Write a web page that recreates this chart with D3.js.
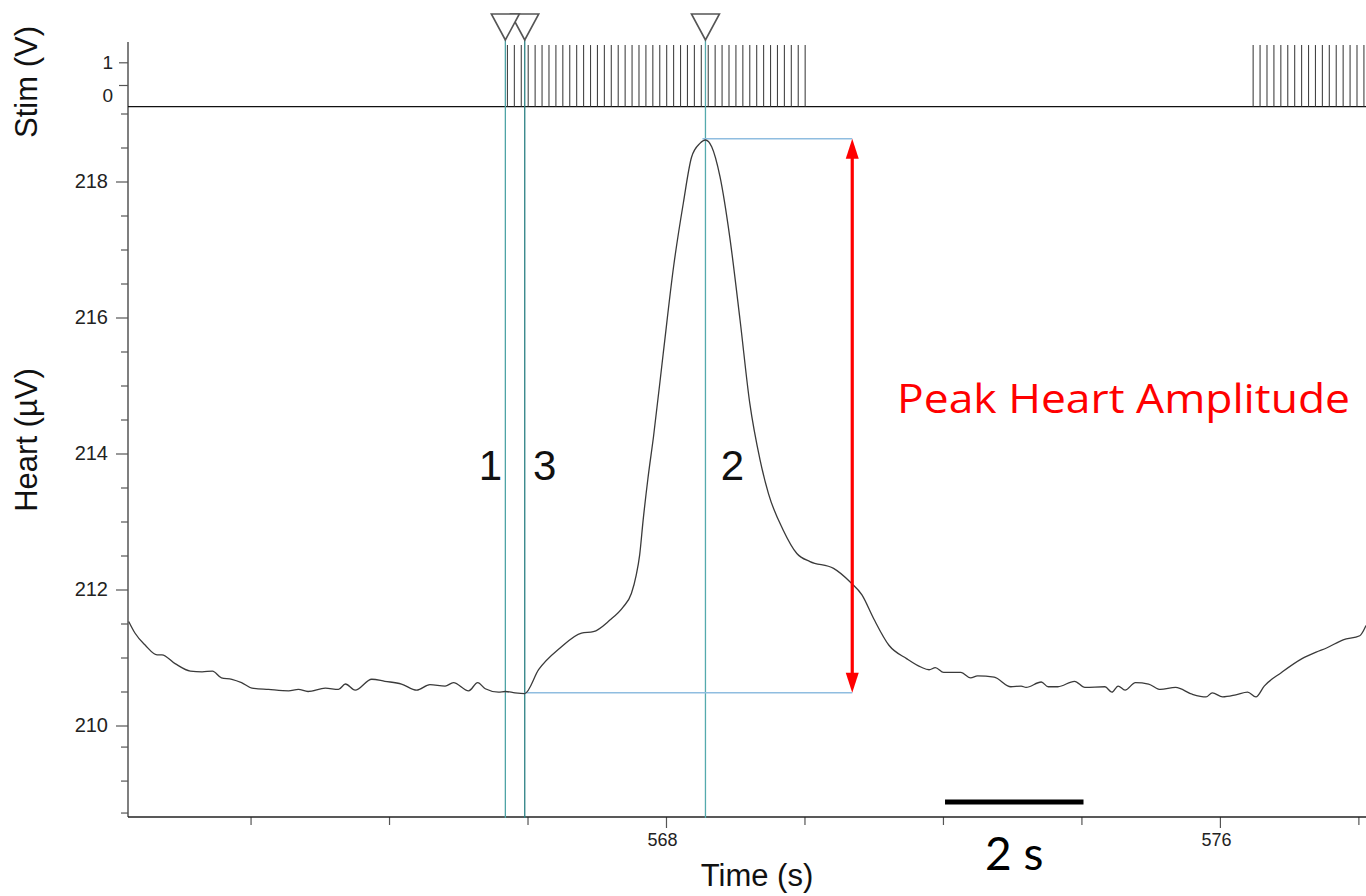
<!DOCTYPE html>
<html>
<head>
<meta charset="utf-8">
<script src="https://cdn.jsdelivr.net/npm/d3@7"></script>
<style>
  html, body { margin: 0; padding: 0; background: #fff; }
  svg { display: block; }
  text { font-family: "Liberation Sans", Arial, sans-serif; }
</style>
</head>
<body>
<svg id="chart" width="1366" height="896"></svg>
<script>
// ---------------- DATA ----------------
const timeS = [560.24, 560.33, 560.48, 560.65, 560.72, 560.91, 561.13, 561.30, 561.45, 561.58,
  561.73, 561.87, 562.02, 562.26, 562.55, 562.69, 562.83, 563.08, 563.27, 563.37,
  563.51, 563.75, 563.94, 564.18, 564.40, 564.59, 564.81, 564.93, 565.15, 565.28,
  565.39, 565.58, 565.68, 565.82, 565.96, 566.16, 566.47, 566.78, 566.95, 567.19,
  567.38, 567.50, 567.57, 567.62, 567.67, 567.74, 567.82, 567.96, 568.11, 568.25,
  568.37, 568.49, 568.57, 568.66, 568.78, 568.92, 569.07, 569.21, 569.36, 569.48,
  569.69, 569.89, 570.08, 570.42, 570.66, 570.83, 571.00, 571.22, 571.48, 571.68,
  571.80, 571.89, 572.01, 572.26, 572.40, 572.50, 572.74, 572.98, 573.13, 573.20,
  573.42, 573.52, 573.66, 573.90, 574.05, 574.34, 574.44, 574.53, 574.63, 574.78,
  574.97, 575.14, 575.36, 575.60, 575.80, 575.89, 576.04, 576.23, 576.40, 576.52,
  576.64, 576.89, 577.18, 577.39, 577.54, 577.78, 578.02, 578.11];

const heartUV = [211.53, 211.36, 211.18, 211.04, 211.04, 210.91, 210.80, 210.79, 210.80, 210.70,
  210.68, 210.63, 210.55, 210.53, 210.51, 210.53, 210.50, 210.55, 210.53, 210.61,
  210.52, 210.68, 210.65, 210.61, 210.52, 210.60, 210.58, 210.63, 210.51, 210.63,
  210.54, 210.49, 210.50, 210.48, 210.47, 210.82, 211.14, 211.36, 211.38, 211.55,
  211.74, 211.94, 212.21, 212.51, 213.02, 213.64, 214.25, 215.47, 216.75, 217.68,
  218.36, 218.56, 218.61, 218.51, 218.07, 217.19, 215.96, 214.74, 213.90, 213.41,
  212.88, 212.53, 212.41, 212.31, 212.11, 211.92, 211.57, 211.18, 210.98, 210.86,
  210.82, 210.85, 210.78, 210.78, 210.70, 210.73, 210.71, 210.57, 210.58, 210.56,
  210.64, 210.57, 210.57, 210.65, 210.56, 210.57, 210.49, 210.58, 210.52, 210.63,
  210.61, 210.53, 210.56, 210.46, 210.42, 210.48, 210.42, 210.45, 210.49, 210.42,
  210.58, 210.78, 210.98, 211.08, 211.14, 211.26, 211.32, 211.47];

const stimPulseTimes = [565.71, 565.81, 565.91, 566.01, 566.11, 566.21, 566.31, 566.41, 566.51, 566.61,
  566.71, 566.81, 566.91, 567.01, 567.11, 567.21, 567.31, 567.41, 567.51, 567.61,
  567.71, 567.81, 567.91, 568.01, 568.11, 568.21, 568.31, 568.41, 568.51, 568.61,
  568.71, 568.81, 568.91, 569.01, 569.11, 569.21, 569.31, 569.41, 569.51, 569.61,
  569.71, 569.81, 569.91, 570.01,
  576.48, 576.58, 576.68, 576.78, 576.88, 576.98, 577.08, 577.18, 577.28, 577.38,
  577.48, 577.58, 577.68, 577.78, 577.88, 577.98, 578.08];
const stimBaseV = -0.95;
const stimPeakV = 1.76;

const cursorTimes  = [565.68, 568.57, 565.96];
const cursorLabels = ["1", "2", "3"];
const peakUV = 218.63;
const baselineUV = 210.48;
const arrowTime = 570.69;
const annotation = "Peak Heart Amplitude";

const heartMajorTicks = [210, 212, 214, 216, 218];
const heartMinorTicks = [219, 218.5, 217.5, 217, 216.5, 215.5, 215, 214.5, 213.5, 213, 212.5,
  211.5, 211, 210.5, 209.69, 209.19, 208.72];
const stimTicks = [1, 0];
const timeMajorTicks = [568, 576];
const timeMinorTicks = [562, 564, 566, 570, 572, 574, 578];
const scaleBarTimes = [572.03, 574.03];
const scaleBarLabel = "2 s";

// ---------------- SCALES ----------------
const svg = d3.select("#chart");
const x = d3.scaleLinear().domain([560.23, 578.11]).range([128, 1366]);
const yH = d3.scaleLinear().domain([210, 218]).range([725.5, 181.5]);
const yS = d3.scaleLinear().domain([0, 1]).range([85, 62.3]);
const axisX = 128, axisBottom = 817, sepY = yS(stimBaseV), stimTop = 42;

svg.append("rect").attr("width", 1366).attr("height", 896).attr("fill", "#fff");

// ---------------- AXES ----------------
const axColor = "#555";
function styleAxis(g, fs) {
  g.select(".domain").remove();
  g.selectAll("line").attr("stroke", axColor).attr("stroke-width", 1.2);
  g.selectAll("text").attr("fill", "#222").style("font-size", fs + "px")
    .style("font-family", "'Liberation Sans', Arial, sans-serif");
}
// heart axis
const gHmaj = svg.append("g").attr("transform", `translate(${axisX},0)`)
  .call(d3.axisLeft(yH).tickValues(heartMajorTicks).tickSize(12).tickPadding(8).tickFormat(d3.format("d")));
styleAxis(gHmaj, 20);
const gHmin = svg.append("g").attr("transform", `translate(${axisX},0)`)
  .call(d3.axisLeft(yH).tickValues(heartMinorTicks).tickSize(7).tickFormat(""));
styleAxis(gHmin, 20);
// stim axis
const gS = svg.append("g").attr("transform", `translate(${axisX},0)`)
  .call(d3.axisLeft(yS).tickValues(stimTicks).tickSize(9).tickPadding(6).tickFormat(d3.format("d")));
styleAxis(gS, 19);
gS.selectAll(".tick").filter(d => d === 0).select("text").attr("dy", "0.85em");
// vertical axis line
svg.append("line").attr("x1", axisX).attr("x2", axisX).attr("y1", stimTop).attr("y2", axisBottom)
  .attr("stroke", axColor).attr("stroke-width", 1.5);
// time axis
const gTmaj = svg.append("g").attr("transform", `translate(0,${axisBottom})`)
  .call(d3.axisBottom(x).tickValues(timeMajorTicks).tickSize(11).tickPadding(5).tickFormat(d3.format("d")));
styleAxis(gTmaj, 18);
gTmaj.selectAll(".tick text").attr("x", -4);
const gTmin = svg.append("g").attr("transform", `translate(0,${axisBottom})`)
  .call(d3.axisBottom(x).tickValues(timeMinorTicks).tickSize(8).tickFormat(""));
styleAxis(gTmin, 18);
svg.append("line").attr("x1", axisX).attr("x2", 1366).attr("y1", axisBottom).attr("y2", axisBottom)
  .attr("stroke", "#222").attr("stroke-width", 1.5);
// channel separator
svg.append("line").attr("x1", axisX).attr("x2", 1366).attr("y1", sepY).attr("y2", sepY)
  .attr("stroke", "#111").attr("stroke-width", 1.3);

// axis titles
svg.append("text").attr("transform", "translate(37,82) rotate(-90)").attr("text-anchor", "middle")
  .style("font-size", "31px").attr("fill", "#111").text("Stim (V)");
svg.append("text").attr("transform", "translate(37,440) rotate(-90)").attr("text-anchor", "middle")
  .style("font-size", "31px").attr("fill", "#111").text("Heart (µV)");
svg.append("text").attr("x", 757).attr("y", 886).attr("text-anchor", "middle")
  .style("font-size", "31px").attr("fill", "#111").text("Time (s)");

// ---------------- STIM PULSES ----------------
svg.append("g").selectAll("line").data(stimPulseTimes).join("line")
  .attr("x1", d => x(d)).attr("x2", d => x(d))
  .attr("y1", yS(stimBaseV)).attr("y2", yS(stimPeakV))
  .attr("stroke", "#444").attr("stroke-width", 1.1);

// ---------------- CURSOR LINES ----------------
const cursorColors = ["#4fa3a6", "#55aaad", "#2b8083"];
cursorTimes.forEach((t, i) => {
  svg.append("line").attr("x1", x(t)).attr("x2", x(t)).attr("y1", 40).attr("y2", axisBottom + 1)
    .attr("stroke", cursorColors[i]).attr("stroke-width", 1.3);
});
// horizontal measurement lines
svg.append("line").attr("x1", x(cursorTimes[1]) - 3).attr("x2", x(arrowTime))
  .attr("y1", yH(peakUV)).attr("y2", yH(peakUV)).attr("stroke", "#8fbde0").attr("stroke-width", 1.5);
svg.append("line").attr("x1", x(cursorTimes[2])).attr("x2", x(arrowTime))
  .attr("y1", yH(baselineUV)).attr("y2", yH(baselineUV)).attr("stroke", "#8fbde0").attr("stroke-width", 1.5);

// ---------------- HEART TRACE ----------------
const line = d3.line().x((d, i) => x(timeS[i])).y(d => yH(d)).curve(d3.curveMonotoneX);
svg.append("path").datum(heartUV).attr("d", line).attr("fill", "none")
  .attr("stroke", "#3a3a3a").attr("stroke-width", 1.3);

// ---------------- TRIANGLE MARKERS ----------------
[cursorTimes[2], cursorTimes[0], cursorTimes[1]].forEach(t => {
  const cx = x(t);
  svg.append("path").attr("d", `M${cx - 14},14 L${cx + 14},14 L${cx},40 Z`)
    .attr("fill", "#fff").attr("stroke", "#555").attr("stroke-width", 1.6);
});

// cursor number labels
const labelOffsets = { "1": -15, "2": 27, "3": 20 };
cursorTimes.forEach((t, i) => {
  svg.append("text").attr("x", x(t) + labelOffsets[cursorLabels[i]]).attr("y", 480)
    .attr("text-anchor", "middle").style("font-size", "42px").attr("fill", "#111").text(cursorLabels[i]);
});

// ---------------- RED ARROW ----------------
const ax = x(arrowTime), yTop = yH(peakUV), yBot = yH(baselineUV);
svg.append("line").attr("x1", ax).attr("x2", ax).attr("y1", yTop + 16).attr("y2", yBot - 16)
  .attr("stroke", "#ff0000").attr("stroke-width", 3.2);
svg.append("path").attr("d", `M${ax},${yTop} L${ax - 6.5},${yTop + 20} L${ax + 6.5},${yTop + 20} Z`).attr("fill", "#ff0000");
svg.append("path").attr("d", `M${ax},${yBot} L${ax - 6.5},${yBot - 20} L${ax + 6.5},${yBot - 20} Z`).attr("fill", "#ff0000");
svg.append("text").attr("x", 897).attr("y", 413).attr("text-anchor", "start")
  .attr("textLength", 453).attr("lengthAdjust", "spacingAndGlyphs")
  .style("font-family", "'Open Sans', Lato, sans-serif").style("font-size", "40px")
  .attr("fill", "#ff0000").text(annotation);

// ---------------- SCALE BAR ----------------
svg.append("line").attr("x1", x(scaleBarTimes[0])).attr("x2", x(scaleBarTimes[1]))
  .attr("y1", 802).attr("y2", 802).attr("stroke", "#000").attr("stroke-width", 5);
svg.append("text").attr("x", (x(scaleBarTimes[0]) + x(scaleBarTimes[1])) / 2).attr("y", 870)
  .attr("text-anchor", "middle").style("font-family", "Lato, 'Open Sans', sans-serif")
  .style("font-size", "46px").attr("fill", "#000").text(scaleBarLabel);
</script>
</body>
</html>
